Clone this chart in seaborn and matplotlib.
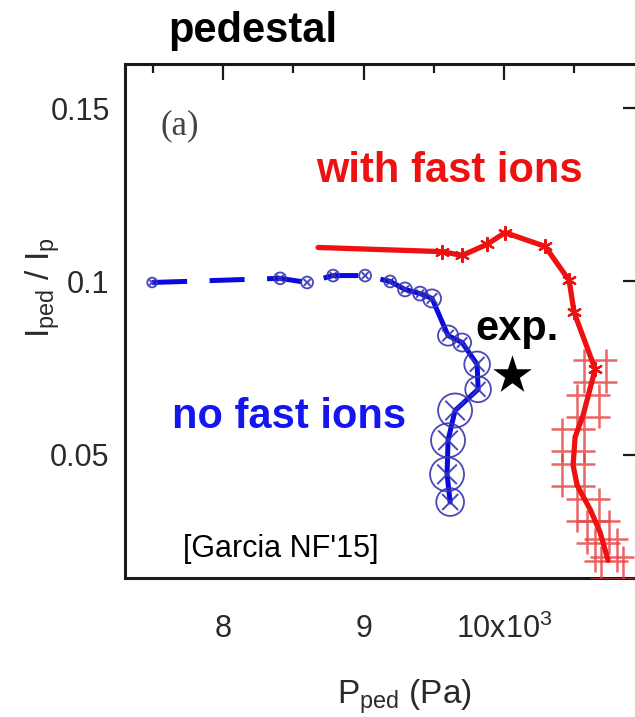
import numpy as np
import pandas as pd
import matplotlib
matplotlib.use("Agg")
import matplotlib.pyplot as plt
import seaborn as sns
from matplotlib.ticker import MultipleLocator
from matplotlib.path import Path

# ---------------- data ----------------
# "no fast ions" scan (blue)
blue_p = [7495, 8406, 8598, 8783, 9011, 9189, 9295, 9402, 9487,
          9601, 9701, 9808, 9815, 9651, 9601, 9594, 9616]
blue_i = [0.0997, 0.1009, 0.0997, 0.1017, 0.1017, 0.1000, 0.0977, 0.0965, 0.0951,
          0.0844, 0.0824, 0.0761, 0.0689, 0.0628, 0.0542, 0.0444, 0.0364]
blue_err = [0.0014, 0.0017, 0.0017, 0.0017, 0.0017, 0.0017, 0.0020, 0.0020, 0.0026,
            0.0029, 0.0026, 0.0037, 0.0037, 0.0049, 0.0049, 0.0049, 0.0040]

# "with fast ions" scan (red)
red_p = [8676, 9559, 9701, 9879, 10007, 10292, 10463, 10498, 10648,
         10562, 10505, 10491, 10520, 10612, 10683, 10740]
red_i = [0.1098, 0.1086, 0.1075, 0.1107, 0.1141, 0.1101, 0.1003, 0.0911, 0.0747,
         0.0614, 0.0551, 0.0470, 0.0412, 0.0343, 0.0277, 0.0196]
red_hash_p = [10648, 10598, 10491, 10491, 10598, 10669, 10726, 10769]
red_hash_i = [0.0741, 0.0640, 0.0542, 0.0441, 0.0340, 0.0277, 0.0225, 0.0173]

# experimental point
exp_p = [10057]
exp_i = [0.0729]

xtick_vals = [8000, 9000, 10000]
xtick_labels = ["8", "9", "10x10$^{3}$"]
ytick_vals = [0.05, 0.10, 0.15]
ytick_labels = ["0.05", "0.1", "0.15"]

# ---------------- style ----------------
sns.set_style("white")
plt.rcParams["font.family"] = ["Liberation Sans", "DejaVu Sans"]
plt.rcParams["mathtext.fontset"] = "custom"
plt.rcParams["mathtext.rm"] = "Liberation Sans"
plt.rcParams["mathtext.it"] = "Liberation Sans:italic"
plt.rcParams["mathtext.bf"] = "Liberation Sans:bold"
plt.rcParams["mathtext.default"] = "regular"

W, H = 635, 717
fig = plt.figure(figsize=(W / 100, H / 100), dpi=100)
ax = fig.add_axes([125 / W, 1 - 578 / H, (639 - 125) / W, (578 - 64) / H])
ax.set_xlim(7302, 10960)
ax.set_ylim(0.0145, 0.1627)

BLUE = "#0a0ae0"
BLUE_C = "#3434b4"
RED = "#ee1111"

# pixel radius of each error circle through the axis scale
y0 = ax.transData.transform((8000, 0.0))[1]
rad_px = [ax.transData.transform((8000, e))[1] - y0 for e in blue_err]
circ_s = [(2 * r * 0.72) ** 2 for r in rad_px]
x_s = [(1.15 * r * 0.72) ** 2 for r in rad_px]

bdf = pd.DataFrame({"p": blue_p, "i": blue_i})
rdf = pd.DataFrame({"p": red_p, "i": red_i})
hdf = pd.DataFrame({"p": red_hash_p, "i": red_hash_i})

# blue line: dashed upper branch, solid lower branch
sns.lineplot(data=bdf.iloc[:6], x="p", y="i", sort=False, estimator=None,
             color=BLUE, lw=3.6, linestyle=(0, (7, 4.5)), ax=ax)
sns.lineplot(data=bdf.iloc[5:], x="p", y="i", sort=False, estimator=None,
             color=BLUE, lw=3.6, ax=ax)
sns.scatterplot(x=blue_p, y=blue_i, s=circ_s, marker="o", color=BLUE_C,
                facecolor="none", edgecolor=BLUE_C, linewidth=1.3, alpha=0.9,
                ax=ax, zorder=3)
sns.scatterplot(x=blue_p, y=blue_i, s=x_s, marker="x", color=BLUE_C,
                linewidth=1.4, alpha=0.9, ax=ax, zorder=3)

# red "#" error markers
hash_marker = Path(
    [(-0.5, -1), (-0.5, 1), (0.5, -1), (0.5, 1),
     (-1, -0.5), (1, -0.5), (-1, 0.5), (1, 0.5)],
    [Path.MOVETO, Path.LINETO] * 4,
)
sns.lineplot(data=hdf, x="p", y="i", sort=False, estimator=None,
             color="#e23a3a", linestyle="none", marker=hash_marker,
             markersize=31, markeredgewidth=1.8, markeredgecolor="#e54040",
             markerfacecolor="none", alpha=0.8, ax=ax, zorder=3)

# red line
sns.lineplot(data=rdf, x="p", y="i", sort=False, estimator=None,
             color=RED, lw=3.8, ax=ax, zorder=4)
sns.scatterplot(x=red_p[1:9], y=red_i[1:9], s=90, marker=(6, 2, 0), color=RED,
                linewidth=1.6, ax=ax, zorder=4)

# experiment star
sns.scatterplot(x=exp_p, y=exp_i, s=850, marker="*", color="black",
                edgecolor="black", linewidth=0, ax=ax, zorder=5)

# ---------------- axes ----------------
ax.set_xticks(xtick_vals)
ax.set_xticklabels(xtick_labels)
ax.xaxis.set_minor_locator(MultipleLocator(500))
ax.set_yticks(ytick_vals)
ax.set_yticklabels(ytick_labels)
ax.tick_params(which="both", direction="in", top=True, right=True,
               colors="#1a1a1a", labelcolor="#2a2a2a", width=1.6)
ax.tick_params(which="major", length=11.5)
ax.tick_params(which="minor", length=6.5)
ax.tick_params(axis="x", which="major", labelsize=22, pad=26)
ax.tick_params(axis="y", which="major", labelsize=22, pad=11)
for sp in ax.spines.values():
    sp.set_linewidth(2.2)
    sp.set_color("#1a1a1a")
    sp.set_visible(True)

ax.set_xlabel("P$_{ped}$ (Pa)", fontsize=24, color="#2a2a2a")
ax.set_ylabel("I$_{ped}$ / I$_{p}$", fontsize=24, color="#2a2a2a")
ax.xaxis.set_label_coords(0.543, -0.193)
ax.yaxis.set_label_coords(-0.122, 0.566)

# ---------------- annotations ----------------
fig.text(168 / W, 1 - 42 / H, "pedestal", fontsize=30, fontweight="bold",
         color="black", ha="left", va="baseline")
fig.text(316 / W, 1 - 182 / H, "with fast ions", fontsize=30, fontweight="bold",
         color=RED, ha="left", va="baseline")
fig.text(172 / W, 1 - 428 / H, "no fast ions", fontsize=30, fontweight="bold",
         color="#1515f0", ha="left", va="baseline")
fig.text(475 / W, 1 - 340 / H, "exp.", fontsize=30, fontweight="bold",
         color="black", ha="left", va="baseline")
fig.text(183 / W, 1 - 557 / H, "[Garcia NF'15]", fontsize=22,
         color="black", ha="left", va="baseline")
fig.text(161 / W, 1 - 134 / H, "(a)", fontsize=25, family="Liberation Serif",
         color="#444444", ha="left", va="baseline")

fig.savefig("out.png", dpi=100)
